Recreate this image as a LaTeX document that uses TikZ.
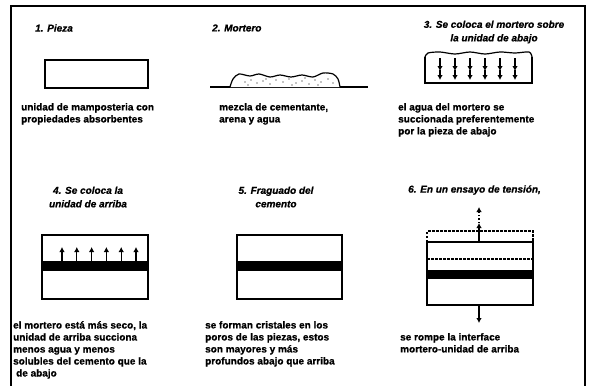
\documentclass[tikz,border=0pt]{standalone}
\usepackage{fontspec}
\setmainfont{Liberation Sans}[BoldFeatures={FakeBold=0.8}, BoldItalicFeatures={FakeBold=0.8}]
\usetikzlibrary{arrows.meta}

\begin{document}
\begin{tikzpicture}[
    x=1pt, y=-1pt,
    every node/.style={inner sep=0pt},
    heading/.style={font=\bfseries\itshape\fontsize{10}{13.5}\selectfont, align=center},
    caption/.style={font=\bfseries\fontsize{10}{12}\selectfont, align=left, anchor=north west},
    brick/.style={draw=black, line width=1.3pt, fill=white},
    joint/.style={fill=black},
    flow/.style={-{Latex[length=5pt,width=5.5pt]}, line width=1.3pt},
    gap/.style={line width=1.2pt, dash pattern=on 2.5pt off 1.5pt}
]
\useasboundingbox (0,0) rectangle (590,386);

% outer frame
\draw[line width=1.3pt] (11,386) -- (11,6) -- (585,6) -- (585,386);

% 1. Pieza
\node (t1) [heading, anchor=west] at (35,28) {1. Pieza};
\draw[brick] (45,60) rectangle (148,88);
\node (c1) [caption] at (21,103) {unidad de mamposteria con\\propiedades absorbentes};

% 2. Mortero
\node (t2) [heading, anchor=west] at (212,28) {2. Mortero};
\draw[line width=1.2pt] (210,87) -- (368,87);
\draw[line width=1.2pt, fill=white] plot[smooth] coordinates {(230,87) (233,79) (239,74) (250,76) (259,74) (270,77) (280,75) (291,77) (302,75) (313,77) (323,73) (333,74) (338,79) (340,87)};
\foreach \px/\py in {245/82,251/80,257/83,263/81,270/84,276/80,283/82,289/79,296/83,302/81,309/84,315/80,321/82,328/79,333/83,248/85,266/79,292/85,318/85,305/78}
    \fill (\px,\py) circle (0.7);
\node (c2) [caption] at (219,103) {mezcla de cementante,\\arena y agua};

% 3. Se coloca el mortero sobre la unidad de abajo
\node (t3) [heading] at (494,32) {3. Se coloca el mortero sobre\\la unidad de abajo};
\draw[brick, fill=none] (425,57) -- (425,83) -- (532,83) -- (532,57);
\draw[line width=1.2pt] plot[smooth] coordinates {(425,57) (428,53) (440,52) (455,54) (470,52) (485,54) (500,52) (515,53) (529,52) (532,57)};
\foreach \i in {0,...,5} {
    \draw[flow] (440+15*\i,58) -- (440+15*\i,71);
    \draw[flow] (440+15*\i,70) -- (440+15*\i,80);
}
\node (c3) [caption] at (398,103) {el agua del mortero se\\succionada preferentemente\\por la pieza de abajo};

% 4. Se coloca la unidad de arriba
\node (t4) [heading] at (88,197) {4. Se coloca la\\unidad de arriba};
\draw[brick] (42,235) rectangle (148,299);
\fill[joint] (42,261) rectangle (148,271);
\foreach \i in {0,...,5}
    \draw[flow] (62+14.8*\i,262) -- (62+14.8*\i,247);
\node (c4) [caption] at (13,321) {el mortero está más seco, la\\unidad de arriba succiona\\menos agua y menos\\solubles del cemento que la\\\hspace{3pt}de abajo};

% 5. Fraguado del cemento
\node (t5) [heading] at (276,197) {5. Fraguado del\\cemento};
\draw[brick] (237,235) rectangle (342,299);
\fill[joint] (237,261) rectangle (342,271);
\node (c5) [caption] at (205,321) {se forman cristales en los\\poros de las piezas, estos\\son mayores y más\\profundos abajo que arriba};

% 6. En un ensayo de tension
\node (t6) [heading, anchor=west] at (408,190) {6. En un ensayo de tensión,};
\draw[gap] (427,242) -- (427,231) -- (533,231) -- (533,242);
\draw[brick] (427,242) rectangle (533,305);
\draw[gap] (427,259) -- (533,259);
\fill[joint] (427,270) rectangle (533,279);
\draw[flow] (479,242) -- (479,223);
\draw[flow, dotted] (479,223) -- (479,207);
\draw[flow] (479,305) -- (479,323);
\node (c6) [caption] at (400,333) {se rompe la interface\\mortero-unidad de arriba};

\end{tikzpicture}
\end{document}
